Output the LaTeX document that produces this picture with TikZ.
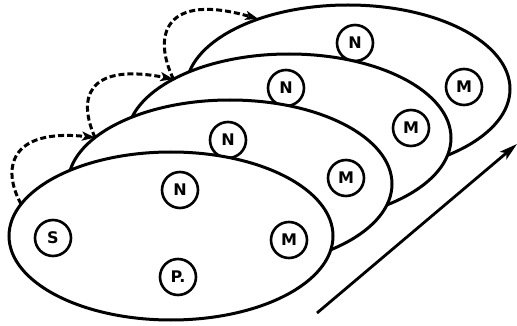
\documentclass[tikz,border=0pt]{standalone}
\usepackage{fontspec}
\setmainfont{DejaVu Sans}
\usetikzlibrary{shapes.geometric,arrows.meta}
\begin{document}
\begin{tikzpicture}[x=1pt,y=-1pt,
  ell/.style={ellipse,draw,fill=white,line width=3pt,minimum width=324pt,minimum height=168pt,inner sep=0pt,outer sep=0pt},
  atom/.style={circle,draw,fill=white,line width=2.6pt,minimum size=36pt,inner sep=0pt,font=\fontsize{16}{16}\selectfont\bfseries},
  hop/.style={dash pattern=on 6pt off 3pt,line width=3pt,-{Stealth[length=13pt,width=9pt,inset=3pt]}},
  flowarrow/.style={line width=2.8pt,-{Stealth[length=18pt,width=10pt,inset=4pt]}}]
\useasboundingbox (0,0) rectangle (517,326);
% back layer
\node[ell] (e4) at (348,89) {};
\node[atom] (n4) at (355,43) {N};
\node[atom] (m4) at (464,87) {M};
\node[ell] (e3) at (289,138) {};
\node[atom] (n3) at (286,88) {N};
\node[atom] (m3) at (411,128) {M};
\node[ell] (e2) at (230,184) {};
\node[atom] (n2) at (228,140) {N};
\node[atom] (m2) at (346,178) {M};
\node[ell] (e1) at (171,236) {};
\node[atom] (s1) at (53,238) {S};
\node[atom] (n1) at (180,190) {N};
\node[atom] (p1) at (178,277) {P.};
\node[atom] (m1) at (289,240) {M};
% dashed transitions
\coordinate (h1) at (e1.168);
\coordinate (h2) at (e2.161);
\coordinate (h3) at (e3.153.6);
\coordinate (h4) at (e4.142);
\draw[hop] (h1) .. controls (2,170) and (8,128) .. (h2);
\draw[hop] (h2) .. controls (78,100) and (85,62) .. (h3);
\draw[hop] (h3) .. controls (152,35) and (165,-8) .. (h4);
% direction arrow
\coordinate (a0) at (317,313);
\coordinate (a1) at (517,144);
\draw[flowarrow] (a0) -- (a1);
\end{tikzpicture}
\end{document}
